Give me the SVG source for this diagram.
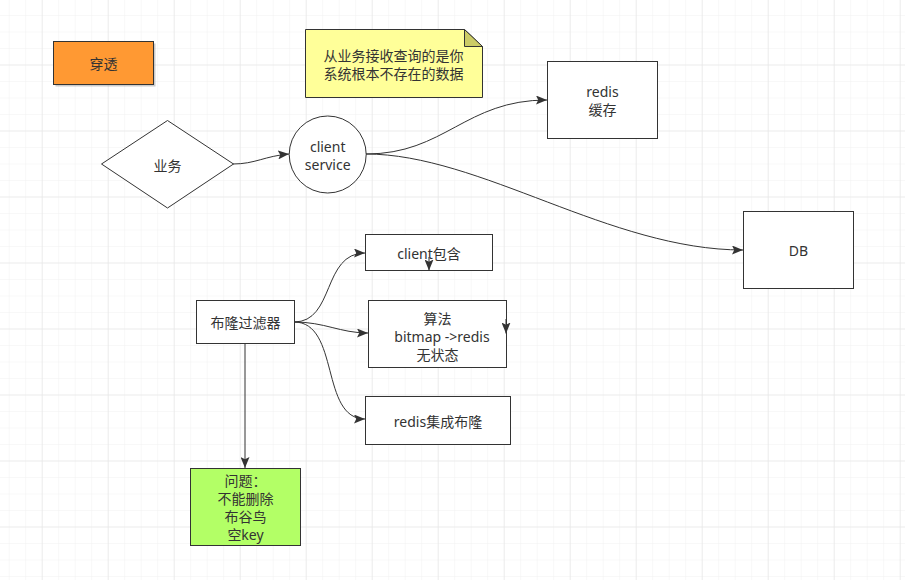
<svg xmlns="http://www.w3.org/2000/svg" width="905" height="580" viewBox="0 0 905 580">
<style>
  .t{font-family:"Noto Sans","Noto Sans CJK SC",sans-serif;font-size:14px;fill:#333;text-anchor:middle;dominant-baseline:central}
  .box{stroke:#333;stroke-width:1}
  .e{fill:none;stroke:#333;stroke-width:1}
</style>
<defs>
  <pattern id="minor" width="16.5" height="16.5" patternUnits="userSpaceOnUse" x="8.7" y="-1.5">
    <path d="M0 0H16.5M0 0V16.5" fill="none" stroke="#f1f1f1" stroke-width="1"/>
  </pattern>
  <pattern id="major" width="66" height="66" patternUnits="userSpaceOnUse" x="41.7" y="-1.5">
    <path d="M0 0H66M0 0V66" fill="none" stroke="#e2e2e2" stroke-width="1"/>
  </pattern>
  <marker id="arr" markerWidth="12" markerHeight="9" refX="11" refY="4.5" orient="auto" markerUnits="userSpaceOnUse">
    <path d="M0 0L11 4.5L0 9L2.2 4.5Z" fill="#333"/>
  </marker>
</defs>
<rect width="905" height="580" fill="#fff"/>
<rect width="905" height="580" fill="url(#minor)"/>
<rect width="905" height="580" fill="url(#major)"/>

<g id="penetrate">
  <rect x="55.5" y="43.5" width="100" height="43" fill="#999" opacity="0.5"/>
  <rect class="box" x="53.5" y="41.5" width="100" height="43" fill="#ff9933"/>
  <text class="t" x="103.5" y="63">穿透</text>
</g>

<g id="note">
  <path class="box" d="M305.5 29.5H464.5L482.5 46.5V97.5H305.5Z" fill="#ffff99"/>
  <path class="box" d="M464.5 29.5V46.5H482.5Z" fill="#cccc66"/>
  <text class="t"><tspan x="393.5" y="54.5">从业务接收查询的是你</tspan><tspan x="393.5" y="72.5">系统根本不存在的数据</tspan></text>
</g>

<g id="business">
  <path class="box" d="M167.5 120.5L233.5 164L167.5 208L101.5 164Z" fill="#fff"/>
  <text class="t" x="167.5" y="165">业务</text>
</g>

<g id="client-service">
  <circle class="box" cx="327.7" cy="154.5" r="38.5" fill="#fff"/>
  <text class="t"><tspan x="327.7" y="145.5">client</tspan><tspan x="327.7" y="163.5">service</tspan></text>
</g>

<g id="redis-cache">
  <rect class="box" x="547.5" y="61.5" width="110" height="77" fill="#fff"/>
  <text class="t"><tspan x="602.5" y="90.5">redis</tspan><tspan x="602.5" y="108.5">缓存</tspan></text>
</g>

<g id="db">
  <rect class="box" x="743.5" y="211.5" width="110" height="77" fill="#fff"/>
  <text class="t" x="798.5" y="250">DB</text>
</g>

<g id="bloom">
  <rect class="box" x="196.5" y="300.5" width="98" height="43" fill="#fff"/>
  <text class="t" x="245.5" y="322.5">布隆过滤器</text>
</g>

<g id="client-contains">
  <rect class="box" x="365.5" y="234.5" width="127" height="36" fill="#fff"/>
  <text class="t" x="429" y="253">client包含</text>
</g>

<g id="algorithm">
  <rect class="box" x="368.5" y="300.5" width="138" height="67" fill="#fff"/>
  <text class="t"><tspan x="437.5" y="317.5">算法</tspan><tspan x="442" y="335.5">bitmap -&gt;redis</tspan><tspan x="437.5" y="353.5">无状态</tspan></text>
</g>

<g id="redis-bloom">
  <rect class="box" x="365.5" y="396.5" width="145" height="48" fill="#fff"/>
  <text class="t" x="438" y="421">redis集成布隆</text>
</g>

<g id="problem">
  <rect class="box" x="190.5" y="468.5" width="110" height="77" fill="#b3ff66"/>
  <text class="t"><tspan x="245.5" y="480">问题：</tspan><tspan x="245.5" y="498">不能删除</tspan><tspan x="245.5" y="516">布谷鸟</tspan><tspan x="245.5" y="534">空key</tspan></text>
</g>

<g id="connectors">
  <path class="e" d="M233 164C255 164 265 156 289 154" marker-end="url(#arr)"/>
  <path class="e" d="M366 154C445 154 465 100 547 100" marker-end="url(#arr)"/>
  <path class="e" d="M366 154C480 154 610 250 743 250" marker-end="url(#arr)"/>
  <path class="e" d="M294 322C335 322 322 253 365 253" marker-end="url(#arr)"/>
  <path class="e" d="M294 322C325 322 340 333 368 333" marker-end="url(#arr)"/>
  <path class="e" d="M294 322C340 322 320 419 365 419" marker-end="url(#arr)"/>
  <path class="e" d="M245 343V468" marker-end="url(#arr)"/>
  <path class="e" d="M429 257V270.5" marker-end="url(#arr)"/>
  <path class="e" d="M506 319V333.5" marker-end="url(#arr)"/>
</g>
</svg>
